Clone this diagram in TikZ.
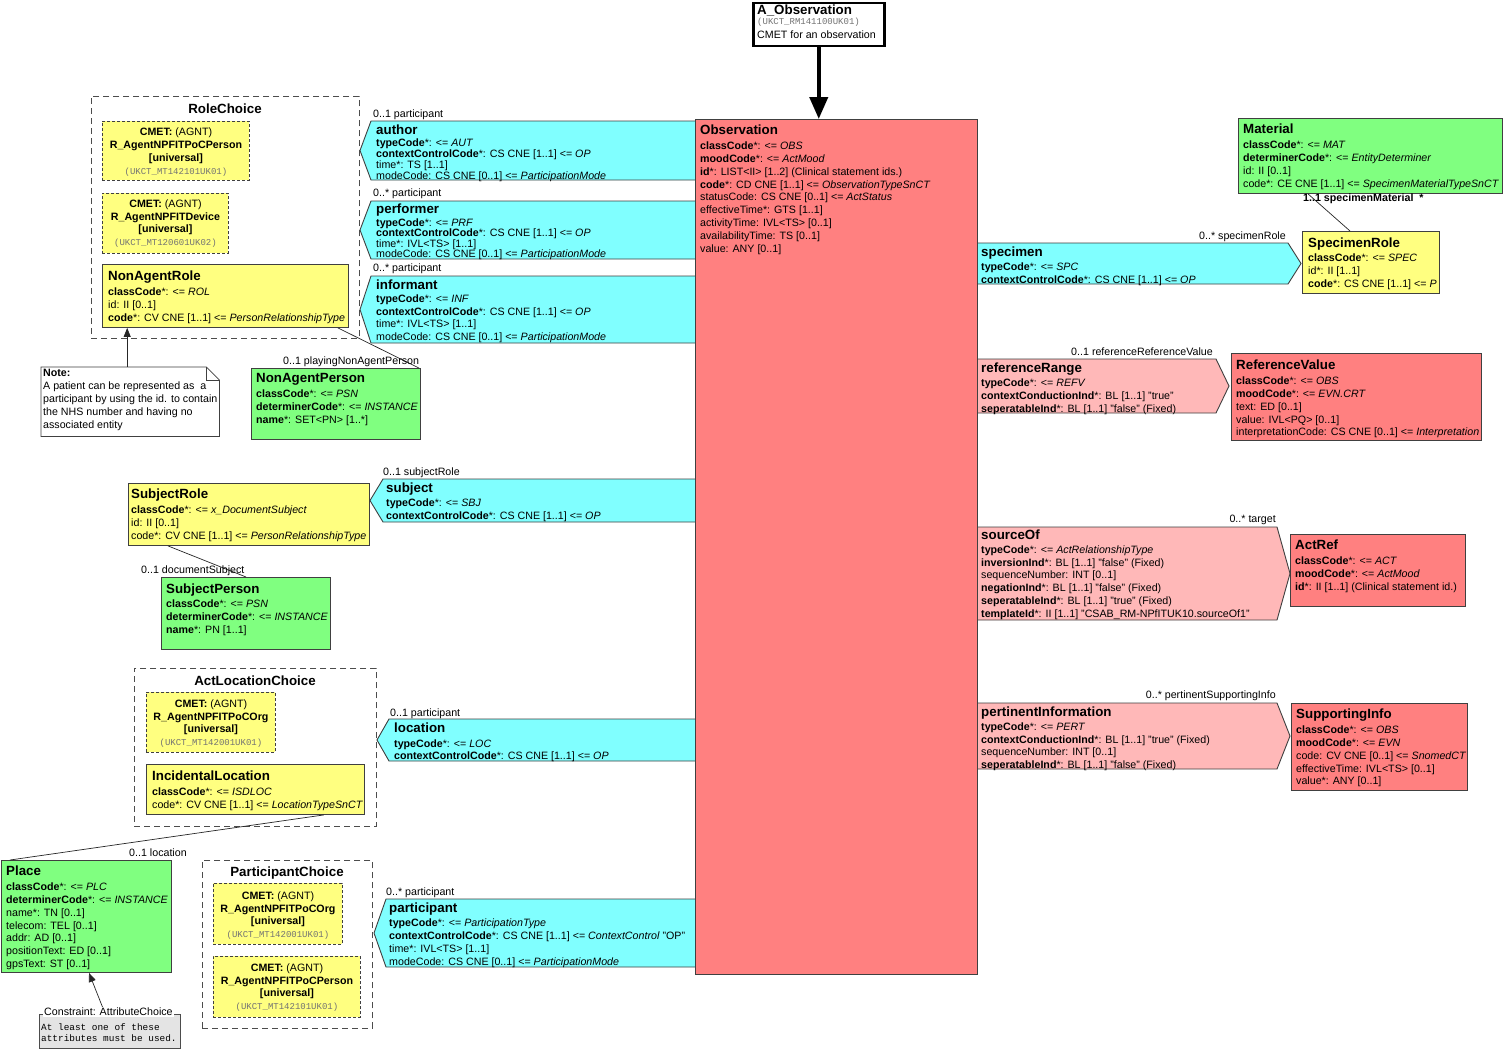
\documentclass[tikz,border=0pt]{standalone}
\usepackage{fontspec}
\setmainfont{Liberation Sans}
\newfontfamily\ukmono{Liberation Mono}
\usetikzlibrary{arrows.meta}

\definecolor{obsred}{HTML}{FF8080}
\definecolor{partcyan}{HTML}{80FFFF}
\definecolor{roleyellow}{HTML}{FFFF80}
\definecolor{entgreen}{HTML}{80FF80}
\definecolor{relpink}{HTML}{FFB8B8}
\definecolor{cstgray}{HTML}{E4E4E4}

\newcommand{\clsname}[1]{{\fontsize{13.33}{16}\selectfont\bfseries #1}}
\newcommand{\ukct}[1]{{\ukmono\fontsize{9}{10}\selectfont\color{black!55}(#1)}}

\begin{document}
\begin{tikzpicture}[x=1pt, y=-1pt,
  box/.style={draw=black!75, line width=0.9pt, anchor=north west, inner sep=0pt},
  cmet/.style={box, fill=roleyellow, dash pattern=on 3pt off 2pt},
  choice/.style={draw=black!70, line width=0.9pt, dash pattern=on 6pt off 4pt, anchor=north west, inner sep=0pt},
  choicettl/.style={anchor=base, inner sep=0pt, font=\fontsize{13.33}{16}\selectfont\bfseries},
  attrs/.style={anchor=north west, inner sep=0pt, align=left, font=\fontsize{10.67}{12.9}\selectfont},
  tight/.style={font=\fontsize{10.67}{10.7}\selectfont},
  cmettext/.style={anchor=north, inner sep=0pt, align=center, font=\fontsize{10.67}{12.7}\selectfont},
  card/.style={inner sep=0pt, font=\fontsize{10.67}{12}\selectfont},
  partshape/.style={draw=black!75, line width=0.9pt},
  assoc/.style={draw=black!85, line width=0.7pt},
  notearrow/.style={draw=black!85, line width=0.7pt, -{Triangle[length=9pt,width=7pt]}},
]
\path[fill=white] (0,0) rectangle (1504,1049);
\useasboundingbox (0,0) rectangle (1504,1049);

% entry point
\node[box, line width=2.5pt, draw=black, fill=white, minimum width=131pt, minimum height=43pt] (aobs) at (752,2) {};
\node[attrs, font=\fontsize{10.67}{12}\selectfont] (aobstxt) at (757,5) {\clsname{A\_Observation}\\[-2pt]
  \ukct{UKCT\_RM141100UK01}\\[2.1pt]
  CMET for an observation};

% participations on the left
\draw[partshape, fill=partcyan] (700,121) -- (371,121) -- (360,150.5) -- (371,180) -- (700,180);
\draw[partshape, fill=partcyan] (700,201) -- (371,201) -- (360,230) -- (371,259) -- (700,259);
\draw[partshape, fill=partcyan] (700,276) -- (371,276) -- (360,309.5) -- (371,343) -- (700,343);
\draw[partshape, fill=partcyan] (700,479) -- (383,479) -- (370,500.5) -- (383,522) -- (700,522);
\draw[partshape, fill=partcyan] (700,719) -- (389,719) -- (377,740) -- (389,761) -- (700,761);
\draw[partshape, fill=partcyan] (700,899) -- (386,899) -- (374,933) -- (386,967) -- (700,967);

% act relationships on the right
\draw[partshape, fill=partcyan] (972,243) -- (1288,243) -- (1301,263.5) -- (1288,284) -- (972,284);
\draw[partshape, fill=relpink] (972,359) -- (1216,359) -- (1229,386) -- (1216,413) -- (972,413);
\draw[partshape, fill=relpink] (972,527) -- (1277,527) -- (1290,573.5) -- (1277,620) -- (972,620);
\draw[partshape, fill=relpink] (972,703) -- (1277,703) -- (1290,736) -- (1277,769) -- (972,769);

% focal class
\node[box, fill=obsred, minimum width=282pt, minimum height=855pt] (obs) at (695,119) {};
\draw[line width=4pt, -{Triangle[length=22pt,width=18pt]}] (aobs.south) -- (aobs.south |- obs.north);

\node[attrs] (obstxt) at (700,124.5) {\clsname{Observation}\\[2.1pt]
  \textbf{classCode}*: <= \textit{OBS}\\
  \textbf{moodCode}*: <= \textit{ActMood}\\
  \textbf{id}*: LIST<II> [1..2] (Clinical statement ids.)\\
  \textbf{code}*: CD CNE [1..1] <= \textit{ObservationTypeSnCT}\\
  statusCode: CS CNE [0..1] <= \textit{ActStatus}\\
  effectiveTime*: GTS [1..1]\\
  activityTime: IVL<TS> [0..1]\\
  availabilityTime: TS [0..1]\\
  value: ANY [0..1]};

% participation texts
\node[card, anchor=base west] (authorcard) at (373,117.8) {0..1 participant};
\node[attrs, font=\fontsize{10.67}{10.9}\selectfont] (authortxt) at (376,124.5) {\clsname{author}\\[1.1pt]
  \textbf{typeCode}*: <= \textit{AUT}\\
  \textbf{contextControlCode}*: CS CNE [1..1] <= \textit{OP}\\
  time*: TS [1..1]\\
  modeCode: CS CNE [0..1] <= \textit{ParticipationMode}};

\node[card, anchor=base west] (performercard) at (373,196.8) {0..* participant};
\node[attrs, font=\fontsize{10.67}{10.5}\selectfont] (performertxt) at (376,203.5) {\clsname{performer}\\[2.5pt]
  \textbf{typeCode}*: <= \textit{PRF}\\
  \textbf{contextControlCode}*: CS CNE [1..1] <= \textit{OP}\\
  time*: IVL<TS> [1..1]\\
  modeCode: CS CNE [0..1] <= \textit{ParticipationMode}};

\node[card, anchor=base west] (informantcard) at (373,271.8) {0..* participant};
\node[attrs, font=\fontsize{10.67}{12.7}\selectfont] (informanttxt) at (376,279.5) {\clsname{informant}\\[0.3pt]
  \textbf{typeCode}*: <= \textit{INF}\\
  \textbf{contextControlCode}*: CS CNE [1..1] <= \textit{OP}\\
  time*: IVL<TS> [1..1]\\
  modeCode: CS CNE [0..1] <= \textit{ParticipationMode}};

\node[card, anchor=base west] (subjectcard) at (383,475.8) {0..1 subjectRole};
\node[attrs] (subjecttxt) at (386,482.5) {\clsname{subject}\\[1.1pt]
  \textbf{typeCode}*: <= \textit{SBJ}\\
  \textbf{contextControlCode}*: CS CNE [1..1] <= \textit{OP}};

\node[card, anchor=base west] (locationcard) at (390,716.8) {0..1 participant};
\node[attrs, font=\fontsize{10.67}{12.3}\selectfont] (locationtxt) at (394,722.5) {\clsname{location}\\[2.4pt]
  \textbf{typeCode}*: <= \textit{LOC}\\
  \textbf{contextControlCode}*: CS CNE [1..1] <= \textit{OP}};

\node[card, anchor=base west] (participantcard) at (386,895.8) {0..* participant};
\node[attrs] (participanttxt) at (389,902.5) {\clsname{participant}\\[1.1pt]
  \textbf{typeCode}*: <= \textit{ParticipationType}\\
  \textbf{contextControlCode}*: CS CNE [1..1] <= \textit{ContextControl} "OP"\\
  time*: IVL<TS> [1..1]\\
  modeCode: CS CNE [0..1] <= \textit{ParticipationMode}};

% act relationship texts
\node[card, anchor=base east] (specimencard) at (1286,239.8) {0..* specimenRole};
\node[attrs] (specimentxt) at (981,246.5) {\clsname{specimen}\\[1.1pt]
  \textbf{typeCode}*: <= \textit{SPC}\\
  \textbf{contextControlCode}*: CS CNE [1..1] <= \textit{OP}};

\node[card, anchor=base east] (refrangecard) at (1213,355.8) {0..1 referenceReferenceValue};
\node[attrs] (refrangetxt) at (981,362.5) {\clsname{referenceRange}\\[1.1pt]
  \textbf{typeCode}*: <= \textit{REFV}\\
  \textbf{contextConductionInd}*: BL [1..1] "true"\\
  \textbf{seperatableInd}*: BL [1..1] "false" (Fixed)};

\node[card, anchor=base east] (sourceofcard) at (1276,522.8) {0..* target};
\node[attrs, font=\fontsize{10.67}{12.8}\selectfont] (sourceoftxt) at (981,529.5) {\clsname{sourceOf}\\[1.2pt]
  \textbf{typeCode}*: <= \textit{ActRelationshipType}\\
  \textbf{inversionInd}*: BL [1..1] "false" (Fixed)\\
  sequenceNumber: INT [0..1]\\
  \textbf{negationInd}*: BL [1..1] "false" (Fixed)\\
  \textbf{seperatableInd}*: BL [1..1] "true" (Fixed)\\
  \textbf{templateId}*: II [1..1] "CSAB\_RM-NPfITUK10.sourceOf1"};

\node[card, anchor=base east] (pertinentcard) at (1276,698.8) {0..* pertinentSupportingInfo};
\node[attrs, font=\fontsize{10.67}{12.7}\selectfont] (pertinenttxt) at (981,706.5) {\clsname{pertinentInformation}\\[1.3pt]
  \textbf{typeCode}*: <= \textit{PERT}\\
  \textbf{contextConductionInd}*: BL [1..1] "true" (Fixed)\\
  sequenceNumber: INT [0..1]\\
  \textbf{seperatableInd}*: BL [1..1] "false" (Fixed)};

% right hand classes
\node[box, fill=entgreen, minimum width=264pt, minimum height=75pt] (mat) at (1238,118) {};
\node[attrs] (mattxt) at (1243,123.5) {\clsname{Material}\\[2.1pt]
  \textbf{classCode}*: <= \textit{MAT}\\
  \textbf{determinerCode}*: <= \textit{EntityDeterminer}\\
  id: II [0..1]\\
  code*: CE CNE [1..1] <= \textit{SpecimenMaterialTypeSnCT}};

\node[box, fill=roleyellow, minimum width=137pt, minimum height=62pt] (specrole) at (1302,231) {};
\node[attrs] (specroletxt) at (1308,237.5) {\clsname{SpecimenRole}\\[1.1pt]
  \textbf{classCode}*: <= \textit{SPEC}\\
  id*: II [1..1]\\
  \textbf{code}*: CS CNE [1..1] <= \textit{P}};
\draw[assoc] ([xshift=48pt]specrole.north west) -- ([xshift=70pt]mat.south west);
\node[card, anchor=base west, font=\fontsize{10.67}{12}\selectfont\bfseries] (matcard) at (1303,201.8) {1..1 specimenMaterial\ \ *};

\node[box, fill=obsred, minimum width=250pt, minimum height=87pt] (refval) at (1231,353) {};
\node[attrs] (refvaltxt) at (1236,359.5) {\clsname{ReferenceValue}\\[2.1pt]
  \textbf{classCode}*: <= \textit{OBS}\\
  \textbf{moodCode}*: <= \textit{EVN.CRT}\\
  text: ED [0..1]\\
  value: IVL<PQ> [0..1]\\
  interpretationCode: CS CNE [0..1] <= \textit{Interpretation}};

\node[box, fill=obsred, minimum width=175pt, minimum height=72pt] (actref) at (1290,534) {};
\node[attrs] (actreftxt) at (1295,539.5) {\clsname{ActRef}\\[2.1pt]
  \textbf{classCode}*: <= \textit{ACT}\\
  \textbf{moodCode}*: <= \textit{ActMood}\\
  \textbf{id}*: II [1..1] (Clinical statement id.)};

\node[box, fill=obsred, minimum width=176pt, minimum height=87pt] (suppinfo) at (1291,703) {};
\node[attrs] (suppinfotxt) at (1296,708.5) {\clsname{SupportingInfo}\\[2.1pt]
  \textbf{classCode}*: <= \textit{OBS}\\
  \textbf{moodCode}*: <= \textit{EVN}\\
  code: CV CNE [0..1] <= \textit{SnomedCT}\\
  effectiveTime: IVL<TS> [0..1]\\
  value*: ANY [0..1]};

% RoleChoice
\node[choice, minimum width=268pt, minimum height=242pt] (rolechoice) at (91,96) {};
\node[choicettl] (rolechoicettl) at (225,113.8) {RoleChoice};
\node[cmet, minimum width=147pt, minimum height=59pt] (cmetperson) at (102,121) {};
\node[cmettext] (cmetpersontxt) at (cmetperson.north |- 0,128) {\textbf{CMET:} (AGNT)\\
  \textbf{R\_AgentNPFITPoCPerson}\\ \textbf{[universal]}\\ \ukct{UKCT\_MT142101UK01}};
\node[cmet, minimum width=126pt, minimum height=60pt] (cmetdevice) at (102,193) {};
\node[cmettext] (cmetdevicetxt) at (cmetdevice.north |- 0,199.5) {\textbf{CMET:} (AGNT)\\
  \textbf{R\_AgentNPFITDevice}\\ \textbf{[universal]}\\ \ukct{UKCT\_MT120601UK02}};
\node[box, fill=roleyellow, minimum width=246pt, minimum height=63pt] (nar) at (102,264) {};
\node[attrs] (nartxt) at (108,270.5) {\clsname{NonAgentRole}\\[2.1pt]
  \textbf{classCode}*: <= \textit{ROL}\\
  id: II [0..1]\\
  \textbf{code}*: CV CNE [1..1] <= \textit{PersonRelationshipType}};

% note
\node[minimum width=178pt, minimum height=69pt, anchor=north west, inner sep=0pt] (note) at (41,367) {};
\draw[draw=black!75, line width=0.8pt, fill=white] (note.north west) -- ([xshift=-13pt]note.north east)
  -- ([yshift=-13pt]note.north east) -- (note.south east) -- (note.south west) -- cycle;
\draw[draw=black!75, line width=0.8pt] ([xshift=-13pt]note.north east) -- ([xshift=-13pt,yshift=-13pt]note.north east)
  -- ([yshift=-13pt]note.north east);
\node[attrs] (notetxt) at (43,369.2) {\textbf{Note:}\\
  A patient can be represented as\ \ a\\
  participant by using the id. to contain\\
  the NHS number and having no\\
  associated entity};
\draw[notearrow] ([xshift=-3pt]note.north) -- ([xshift=-3pt]note.north |- nar.south);

\node[box, fill=entgreen, minimum width=169pt, minimum height=71pt] (nap) at (251,368) {};
\node[attrs] (naptxt) at (256,373.5) {\clsname{NonAgentPerson}\\[2.1pt]
  \textbf{classCode}*: <= \textit{PSN}\\
  \textbf{determinerCode}*: <= \textit{INSTANCE}\\
  \textbf{name}*: SET<PN> [1..*]};
\draw[assoc] ([xshift=-11pt]nar.south east) -- ([xshift=-2pt]nap.north east);
\node[card, anchor=base west] (napcard) at (283,364.8) {0..1 playingNonAgentPerson};

% subject
\node[box, fill=roleyellow, minimum width=241pt, minimum height=62pt] (subrole) at (128,483) {};
\node[attrs] (subroletxt) at (131,488.5) {\clsname{SubjectRole}\\[2.1pt]
  \textbf{classCode}*: <= \textit{x\_DocumentSubject}\\
  id: II [0..1]\\
  code*: CV CNE [1..1] <= \textit{PersonRelationshipType}};
\node[box, fill=entgreen, minimum width=169pt, minimum height=72pt] (subperson) at (161,577) {};
\node[attrs] (subpersontxt) at (166,583.5) {\clsname{SubjectPerson}\\[1.6pt]
  \textbf{classCode}*: <= \textit{PSN}\\
  \textbf{determinerCode}*: <= \textit{INSTANCE}\\
  \textbf{name}*: PN [1..1]};
\draw[assoc] ([xshift=40pt]subrole.south west) -- ([xshift=85pt]subperson.north west);
\node[card, anchor=base west] (subpersoncard) at (141,573.8) {0..1 documentSubject};

% ActLocationChoice
\node[choice, minimum width=242pt, minimum height=158pt] (actlocchoice) at (134,668) {};
\node[choicettl] (actlocchoicettl) at (255,685.8) {ActLocationChoice};
\node[cmet, minimum width=129pt, minimum height=60pt] (cmetorg) at (146,692) {};
\node[cmettext] (cmetorgtxt) at (cmetorg.north |- 0,699.5) {\textbf{CMET:} (AGNT)\\
  \textbf{R\_AgentNPFITPoCOrg}\\ \textbf{[universal]}\\ \ukct{UKCT\_MT142001UK01}};
\node[box, fill=roleyellow, minimum width=218pt, minimum height=50pt] (incloc) at (146,764) {};
\node[attrs] (inclctxt) at (152,770.5) {\clsname{IncidentalLocation}\\[2.1pt]
  \textbf{classCode}*: <= \textit{ISDLOC}\\
  code*: CV CNE [1..1] <= \textit{LocationTypeSnCT}};

% Place
\node[box, fill=entgreen, minimum width=170pt, minimum height=112pt] (place) at (1,860) {};
\node[attrs] (placetxt) at (6,865.5) {\clsname{Place}\\[2.1pt]
  \textbf{classCode}*: <= \textit{PLC}\\
  \textbf{determinerCode}*: <= \textit{INSTANCE}\\
  name*: TN [0..1]\\
  telecom: TEL [0..1]\\
  addr: AD [0..1]\\
  positionText: ED [0..1]\\
  gpsText: ST [0..1]};
\draw[assoc] ([xshift=-41pt]incloc.south east) -- ([xshift=9pt]place.north west);
\node[card, anchor=base west] (placecard) at (129,856.8) {0..1 location};

% constraint
\node[box, draw=black!70, fill=cstgray, minimum width=141pt, minimum height=34pt] (cst) at (39,1014) {};
\node[card, anchor=base west, fill=white, inner sep=1pt] (cstlabel) at (43,1015.8) {Constraint: AttributeChoice};
\node[attrs, font=\ukmono\fontsize{9.4}{11}\selectfont] (csttxt) at (41,1023) {At least one of these\\
  attributes must be used.};
\draw[notearrow] ([xshift=-6pt]cstlabel.north) -- ([xshift=88pt]place.south west);

% ParticipantChoice
\node[choice, minimum width=170pt, minimum height=168pt] (partchoice) at (202,860) {};
\node[choicettl] (partchoicettl) at (287,876.8) {ParticipantChoice};
\node[cmet, minimum width=129pt, minimum height=61pt] (cmetorgb) at (213,883) {};
\node[cmettext] (cmetorgbtxt) at (cmetorgb.north |- 0,891.5) {\textbf{CMET:} (AGNT)\\
  \textbf{R\_AgentNPFITPoCOrg}\\ \textbf{[universal]}\\ \ukct{UKCT\_MT142001UK01}};
\node[cmet, minimum width=147pt, minimum height=61pt] (cmetpersonb) at (213,956) {};
\node[cmettext] (cmetpersonbtxt) at (cmetpersonb.north |- 0,963.5) {\textbf{CMET:} (AGNT)\\
  \textbf{R\_AgentNPFITPoCPerson}\\ \textbf{[universal]}\\ \ukct{UKCT\_MT142101UK01}};
\end{tikzpicture}
\end{document}
